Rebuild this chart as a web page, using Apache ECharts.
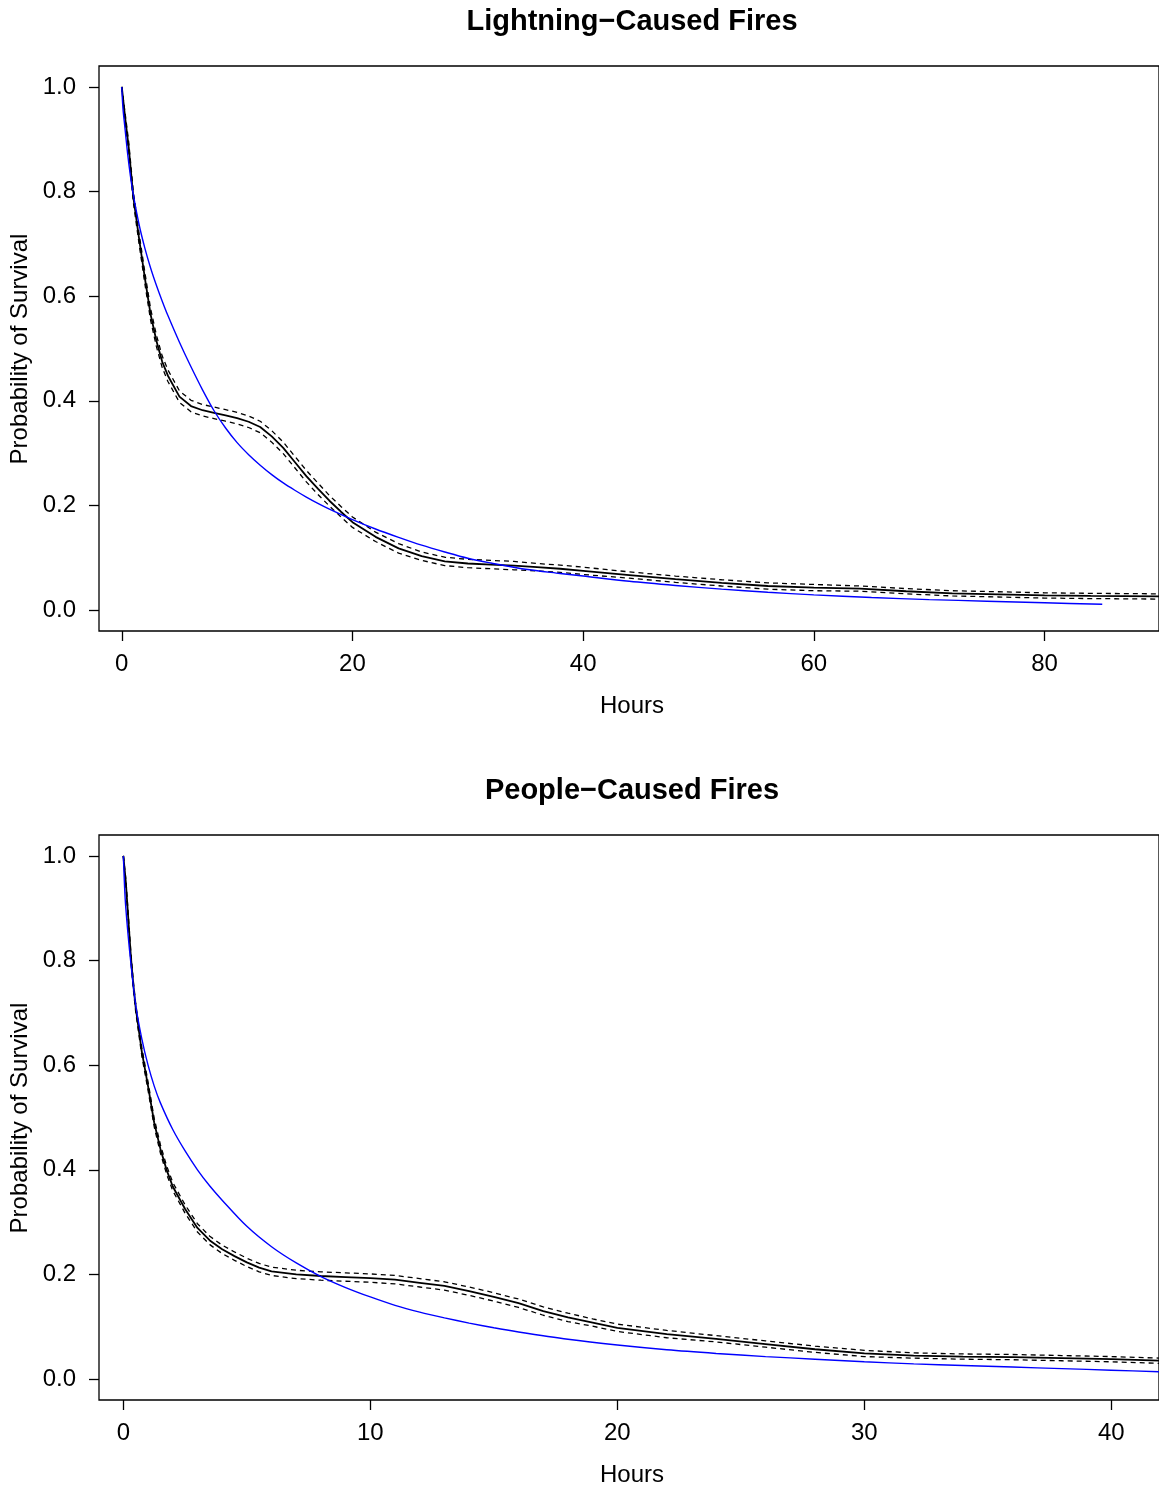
<!DOCTYPE html>
<html>
<head>
<meta charset="utf-8">
<script src="https://cdn.jsdelivr.net/npm/echarts@6/dist/echarts.min.js"></script>
<style>
html,body{margin:0;padding:0;background:#fff;}
#chart{width:1159px;height:1487px;}
</style>
</head>
<body>
<div id="chart"></div>
<script>
// ---------- Panel titles / labels ----------
var panelTitles = ['Lightning\u2212Caused Fires', 'People\u2212Caused Fires'];
var xAxisTitle = 'Hours';
var yAxisTitle = 'Probability of Survival';
var xTicksTop = [0, 20, 40, 60, 80];
var xTicksBottom = [0, 10, 20, 30, 40];
var yTicks = [0, 0.2, 0.4, 0.6, 0.8, 1.0];

// ---------- Lightning-caused fires (top) ----------
var lightHours = [0, 0.3, 0.6, 1.0, 1.5, 2.0, 2.5, 3.0, 3.5, 4.0, 5.0, 6.0, 7.0, 8.0, 9.0, 10.0, 11.0, 12.0, 13.0, 14.0, 15.0, 16.0, 17.0, 18.0, 19.0, 20.0, 22, 24, 26, 28, 30, 32, 34, 36, 38, 40, 44, 48, 52, 56, 60, 64, 68, 72, 76, 80, 84, 90];
var lightKM = [1.0, 0.94, 0.885, 0.79, 0.71, 0.635, 0.565, 0.515, 0.475, 0.448, 0.408, 0.39, 0.382, 0.377, 0.372, 0.367, 0.36, 0.35, 0.332, 0.31, 0.283, 0.256, 0.232, 0.209, 0.188, 0.168, 0.14, 0.118, 0.103, 0.093, 0.089, 0.087, 0.085, 0.082, 0.079, 0.075, 0.067, 0.059, 0.052, 0.046, 0.043, 0.041, 0.036, 0.032, 0.030, 0.028, 0.027, 0.026];
var lightUpper = [1.0, 0.948, 0.895, 0.80, 0.72, 0.646, 0.576, 0.526, 0.486, 0.459, 0.419, 0.401, 0.393, 0.388, 0.383, 0.378, 0.371, 0.361, 0.343, 0.321, 0.294, 0.267, 0.243, 0.219, 0.198, 0.178, 0.149, 0.127, 0.111, 0.101, 0.097, 0.095, 0.093, 0.089, 0.086, 0.082, 0.073, 0.065, 0.058, 0.052, 0.049, 0.046, 0.041, 0.037, 0.035, 0.033, 0.032, 0.031];
var lightLower = [1.0, 0.932, 0.875, 0.78, 0.70, 0.624, 0.554, 0.504, 0.464, 0.437, 0.397, 0.379, 0.371, 0.366, 0.361, 0.356, 0.349, 0.339, 0.321, 0.299, 0.272, 0.245, 0.221, 0.199, 0.178, 0.158, 0.131, 0.109, 0.095, 0.085, 0.081, 0.079, 0.077, 0.075, 0.072, 0.068, 0.061, 0.053, 0.046, 0.040, 0.037, 0.036, 0.031, 0.027, 0.025, 0.023, 0.022, 0.021];
var lightFitHours = [0, 0.1, 0.25, 0.5, 0.75, 1.0, 1.5, 2, 2.5, 3, 3.5, 4, 5, 6, 7, 8, 9, 10, 11, 12, 13, 14, 15, 16, 17, 18, 20, 22, 24, 26, 28, 30, 32, 35, 38, 40, 44, 48, 52, 56, 60, 65, 70, 75, 80, 85];
var lightFit = [1.0, 0.96, 0.927, 0.874, 0.83, 0.794, 0.737, 0.692, 0.654, 0.621, 0.591, 0.563, 0.512, 0.465, 0.421, 0.381, 0.348, 0.32, 0.297, 0.277, 0.259, 0.243, 0.229, 0.216, 0.204, 0.193, 0.173, 0.155, 0.139, 0.124, 0.111, 0.099, 0.09, 0.078, 0.07, 0.065, 0.055, 0.047, 0.04, 0.034, 0.029, 0.024, 0.02, 0.017, 0.014, 0.011];

// ---------- People-caused fires (bottom) ----------
var peopleHours = [0, 0.1, 0.2, 0.3, 0.4, 0.5, 0.75, 1.0, 1.25, 1.5, 1.75, 2.0, 2.5, 3.0, 3.5, 4.0, 4.5, 5.0, 5.5, 6.0, 7, 8, 9, 10, 11, 12, 13, 14, 15, 16, 17, 18, 19, 20, 22, 24, 26, 28, 30, 32, 34, 36, 38, 40, 42];
var peopleKM = [1.0, 0.95, 0.88, 0.81, 0.755, 0.71, 0.625, 0.56, 0.49, 0.44, 0.40, 0.368, 0.325, 0.289, 0.265, 0.248, 0.235, 0.223, 0.213, 0.206, 0.2, 0.197, 0.195, 0.193, 0.19, 0.184, 0.178, 0.168, 0.157, 0.145, 0.13, 0.118, 0.108, 0.098, 0.086, 0.077, 0.067, 0.057, 0.049, 0.045, 0.043, 0.042, 0.04, 0.038, 0.035];
var peopleUpper = [1.0, 0.956, 0.888, 0.818, 0.763, 0.718, 0.633, 0.568, 0.498, 0.448, 0.408, 0.376, 0.333, 0.297, 0.273, 0.256, 0.243, 0.231, 0.221, 0.214, 0.208, 0.205, 0.203, 0.201, 0.198, 0.192, 0.186, 0.176, 0.165, 0.153, 0.138, 0.126, 0.115, 0.105, 0.093, 0.083, 0.073, 0.063, 0.055, 0.050, 0.048, 0.047, 0.045, 0.043, 0.040];
var peopleLower = [1.0, 0.944, 0.872, 0.802, 0.747, 0.702, 0.617, 0.552, 0.482, 0.432, 0.392, 0.360, 0.317, 0.281, 0.257, 0.240, 0.227, 0.215, 0.205, 0.198, 0.192, 0.189, 0.187, 0.185, 0.182, 0.176, 0.170, 0.160, 0.149, 0.137, 0.122, 0.110, 0.101, 0.091, 0.079, 0.071, 0.061, 0.051, 0.043, 0.040, 0.038, 0.037, 0.035, 0.033, 0.030];
var peopleFitHours = [0, 0.05, 0.1, 0.25, 0.5, 0.75, 1, 1.25, 1.5, 2, 2.5, 3, 3.5, 4, 5, 6, 7, 8, 9, 10, 11, 12, 13, 14, 15, 16, 18, 20, 22, 24, 26, 28, 30, 32, 34, 36, 38, 40, 42];
var peopleFit = [1.0, 0.94, 0.9, 0.82, 0.715, 0.65, 0.6, 0.56, 0.528, 0.477, 0.436, 0.4, 0.369, 0.342, 0.292, 0.253, 0.222, 0.196, 0.175, 0.157, 0.141, 0.128, 0.117, 0.107, 0.098, 0.09, 0.076, 0.065, 0.056, 0.049, 0.043, 0.038, 0.033, 0.029, 0.026, 0.023, 0.02, 0.017, 0.014];

function pairs(xs, ys) { return xs.map(function (x, i) { return [x, ys[i]]; }); }

var FONT = '"Liberation Sans", Arial, Helvetica, sans-serif';

function xAxisCfg(gridIndex, min, max, ticks) {
  return {
    type: 'value', gridIndex: gridIndex, min: min, max: max,
    axisLine: { show: false, onZero: false },
    splitLine: { show: false },
    axisTick: { show: true, length: 10, customValues: ticks, lineStyle: { color: '#000', width: 1.3 } },
    axisLabel: { customValues: ticks, margin: 21, fontSize: 24, color: '#000', fontFamily: FONT,
      formatter: function (v) { return String(v); } }
  };
}
function yAxisCfg(gridIndex) {
  return {
    type: 'value', gridIndex: gridIndex, min: -0.04, max: 1.04,
    axisLine: { show: false, onZero: false },
    splitLine: { show: false },
    axisTick: { show: true, length: 10, customValues: yTicks, lineStyle: { color: '#000', width: 1.3 } },
    axisLabel: { customValues: yTicks, margin: 23, fontSize: 24, color: '#000', fontFamily: FONT,
      formatter: function (v) { return v.toFixed(1); } }
  };
}
function lineSeries(idx, data, color, width, type, smooth) {
  return {
    type: 'line', xAxisIndex: idx, yAxisIndex: idx, data: data,
    showSymbol: false, symbol: 'none', smooth: smooth || false, clip: true, silent: true,
    lineStyle: { color: color, width: width, type: type },
    animation: false
  };
}

var chart = echarts.init(document.getElementById('chart'), null, { renderer: 'canvas' });
chart.setOption({
  animation: false,
  backgroundColor: '#fff',
  grid: [
    { left: 99, top: 66, width: 1066, height: 565, show: true, borderColor: '#000', borderWidth: 1.3, backgroundColor: 'transparent', containLabel: false },
    { left: 99, top: 835, width: 1066, height: 565, show: true, borderColor: '#000', borderWidth: 1.3, backgroundColor: 'transparent', containLabel: false }
  ],
  xAxis: [
    xAxisCfg(0, -1.974, 89.92, xTicksTop),
    xAxisCfg(1, -0.986, 41.93, xTicksBottom)
  ],
  yAxis: [yAxisCfg(0), yAxisCfg(1)],
  series: [
    lineSeries(0, pairs(lightHours, lightUpper), '#000', 1.3, [5, 4]),
    lineSeries(0, pairs(lightHours, lightLower), '#000', 1.3, [5, 4]),
    lineSeries(0, pairs(lightHours, lightKM), '#000', 1.8, 'solid'),
    lineSeries(0, pairs(lightFitHours, lightFit), '#0000ff', 1.4, 'solid', 0.3),
    lineSeries(1, pairs(peopleHours, peopleUpper), '#000', 1.3, [5, 4]),
    lineSeries(1, pairs(peopleHours, peopleLower), '#000', 1.3, [5, 4]),
    lineSeries(1, pairs(peopleHours, peopleKM), '#000', 1.8, 'solid'),
    lineSeries(1, pairs(peopleFitHours, peopleFit), '#0000ff', 1.4, 'solid', 0.3)
  ],
  graphic: [
    { type: 'text', x: 632, y: 22, style: { text: panelTitles[0], font: 'bold 29px ' + FONT, fill: '#000', textAlign: 'center', textVerticalAlign: 'middle' } },
    { type: 'text', x: 632, y: 791, style: { text: panelTitles[1], font: 'bold 29px ' + FONT, fill: '#000', textAlign: 'center', textVerticalAlign: 'middle' } },
    { type: 'text', x: 632, y: 706, style: { text: xAxisTitle, font: '24px ' + FONT, fill: '#000', textAlign: 'center', textVerticalAlign: 'middle' } },
    { type: 'text', x: 632, y: 1475, style: { text: xAxisTitle, font: '24px ' + FONT, fill: '#000', textAlign: 'center', textVerticalAlign: 'middle' } },
    { type: 'text', x: 20, y: 349, rotation: Math.PI / 2, style: { text: yAxisTitle, font: '24px ' + FONT, fill: '#000', textAlign: 'center', textVerticalAlign: 'middle' } },
    { type: 'text', x: 20, y: 1118, rotation: Math.PI / 2, style: { text: yAxisTitle, font: '24px ' + FONT, fill: '#000', textAlign: 'center', textVerticalAlign: 'middle' } }
  ]
});
</script>
</body>
</html>
